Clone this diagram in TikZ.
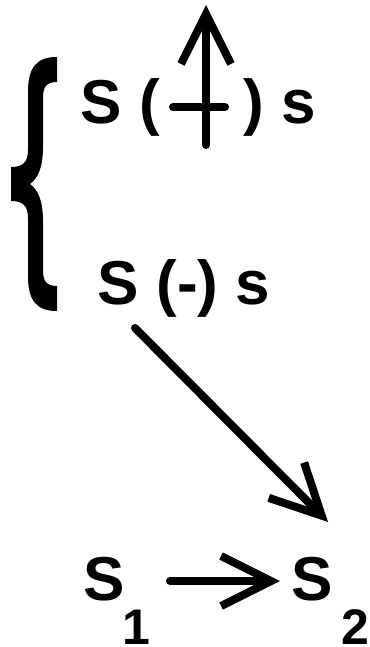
\documentclass[tikz,border=0pt]{standalone}
\usepackage{fontspec}
\setmainfont{Liberation Sans}
\usetikzlibrary{arrows.meta}
\tikzset{
  big/.style={font=\bfseries\fontsize{62}{62}\selectfont, inner sep=0pt, anchor=base west},
  subn/.style={font=\bfseries\fontsize{50}{50}\selectfont, inner sep=0pt, anchor=base west},
  ln/.style={line width=8pt, line cap=round},
  arr/.style={line width=8pt, line cap=round, -{Straight Barb[length=50pt,width=50pt]}}
}
\begin{document}
\begin{tikzpicture}[x=1pt,y=-1pt]
\useasboundingbox (0,0) rectangle (369,647);
% brace
\fill (57,57) .. controls (36,57) and (28,68) .. (28,92) -- (28,150)
  .. controls (28,163) and (22,167) .. (11,167) -- (11,201)
  .. controls (22,201) and (28,205) .. (28,218) -- (28,276)
  .. controls (28,300) and (36,311) .. (57,311) -- (57,286)
  .. controls (47,286) and (43,282) .. (43,270) -- (43,222)
  .. controls (43,200) and (38,190) .. (30,184)
  .. controls (38,178) and (43,168) .. (43,146) -- (43,98)
  .. controls (43,86) and (47,82) .. (57,82) -- cycle;
% texts
\node[big] (up1) at (80.7,124) {S (};
\node[big] (up2) at (243,124) {) s};
\node[big] (lo) at (97.7,304) {S (-) s};
\node[big] (s1) at (83,600) {S};
\node[subn] (s1sub) at (122.5,644) {1};
\node[big] (s2) at (291,600) {S};
\node[subn] (s2sub) at (341.5,644) {2};
% cross with arrow
\coordinate (hl) at (173,107);
\coordinate (hr) at (225,107);
\draw[ln] (hl) -- (hr);
\coordinate (vb) at (206,145);
\coordinate (vt) at (206,5);
\draw[arr] (vb) -- (vt);
% diagonal arrow
\coordinate (d1) at (135,328);
\coordinate (d2) at (328,522);
\draw[arr] (d1) -- (d2);
% bottom arrow
\coordinate (a1) at (170,581);
\coordinate (a2) at (280,581);
\draw[arr] (a1) -- (a2);
\end{tikzpicture}
\end{document}
